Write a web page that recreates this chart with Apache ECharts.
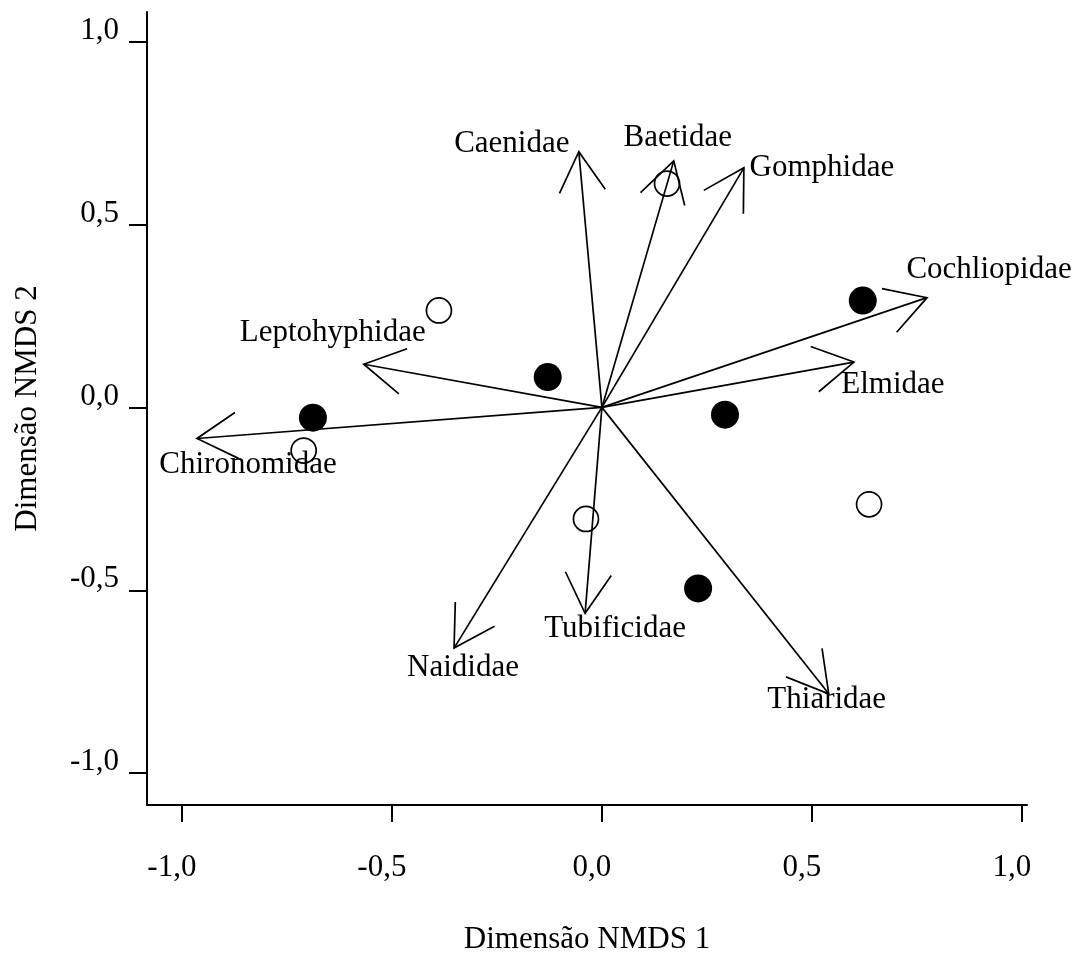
<!DOCTYPE html>
<html>
<head>
<meta charset="utf-8">
<script src="https://cdn.jsdelivr.net/npm/echarts@6/dist/echarts.min.js"></script>
<style>
html,body{margin:0;padding:0;background:#fff;}
#c{width:1079px;height:960px;}
</style>
</head>
<body>
<div id="c"></div>
<script>
// ---- data ----
const taxa = ['Caenidae','Baetidae','Gomphidae','Cochliopidae','Elmidae','Leptohyphidae','Chironomidae','Naididae','Tubificidae','Thiaridae'];
const vecX = [-0.055, 0.171, 0.338, 0.774, 0.600, -0.567, -0.964, -0.352, -0.040, 0.540];
const vecY = [0.699, 0.674, 0.655, 0.300, 0.124, 0.118, -0.085, -0.658, -0.563, -0.783];

const filledX = [-0.688, -0.129, 0.621, 0.293, 0.229];
const filledY = [-0.028, 0.083, 0.292, -0.020, -0.495];
const openX = [-0.388, 0.155, -0.710, -0.038, 0.636];
const openY = [0.265, 0.612, -0.118, -0.305, -0.265];

const tickValues = [-1, -0.5, 0, 0.5, 1];
const xTitle = 'Dimensão NMDS 1';
const yTitle = 'Dimensão NMDS 2';

// ---- layout (pixel offsets of each label centre from its arrow tip) ----
const labelOffset = {
  Caenidae: [-67, -8], Baetidae: [4, -23], Gomphidae: [78, 0], Cochliopidae: [62, -28],
  Elmidae: [39, 23], Leptohyphidae: [-31, -31], Chironomidae: [51, 26], Naididae: [9, 20],
  Tubificidae: [30, 16], Thiaridae: [-2, 6]
};

const FONT = '"Liberation Serif", "Times New Roman", serif';
const FS = 31;
const fmt = v => v.toFixed(1).replace('.', ',');

const chart = echarts.init(document.getElementById('c'), null, {renderer: 'canvas'});

const arrowData = taxa.map((n, i) => [vecX[i], vecY[i], n]);

chart.setOption({
  backgroundColor: '#fff',
  animation: false,
  grid: {left: 147, right: 52, top: 12, bottom: 149, containLabel: false},
  xAxis: {
    type: 'value', min: -1.083, max: 1.012,
    splitLine: {show: false},
    axisLine: {show: true, onZero: false, lineStyle: {color: '#000', width: 2}},
    axisTick: {show: true, length: 17, lineStyle: {color: '#000', width: 2}, customValues: tickValues},
    axisLabel: {customValues: tickValues, formatter: fmt, color: '#000', fontFamily: FONT, fontSize: FS,
      margin: 48, lineHeight: 30, padding: [0, 20, 0, 0]},
    name: xTitle, nameLocation: 'middle', nameGap: 119,
    nameTextStyle: {color: '#000', fontFamily: FONT, fontSize: FS, lineHeight: 31, verticalAlign: 'top'}
  },
  yAxis: {
    type: 'value', min: -1.087, max: 1.081,
    splitLine: {show: false},
    axisLine: {show: true, onZero: false, lineStyle: {color: '#000', width: 2}},
    axisTick: {show: true, length: 18, lineStyle: {color: '#000', width: 2}, customValues: tickValues},
    axisLabel: {customValues: tickValues, formatter: fmt, color: '#000', fontFamily: FONT, fontSize: FS,
      margin: 28, lineHeight: 22, verticalAlign: 'bottom'},
    name: yTitle, nameLocation: 'middle', nameGap: 104, nameRotate: 90,
    nameTextStyle: {color: '#000', fontFamily: FONT, fontSize: FS, lineHeight: 31}
  },
  series: [
    {
      type: 'custom',
      coordinateSystem: 'cartesian2d',
      data: arrowData,
      z: 2,
      renderItem: function (params, api) {
        const o = api.coord([0, 0]);
        const t = api.coord([api.value(0), api.value(1)]);
        const ang = Math.atan2(o[1] - t[1], o[0] - t[0]);
        const L = 46, h = Math.PI / 6;
        const a1 = [t[0] + L * Math.cos(ang + h), t[1] + L * Math.sin(ang + h)];
        const a2 = [t[0] + L * Math.cos(ang - h), t[1] + L * Math.sin(ang - h)];
        const name = taxa[params.dataIndex];
        const off = labelOffset[name];
        const st = {stroke: '#000', lineWidth: 1.7, fill: null};
        return {
          type: 'group',
          children: [
            {type: 'line', shape: {x1: o[0], y1: o[1], x2: t[0], y2: t[1]}, style: st},
            {type: 'polyline', shape: {points: [a1, t, a2]}, style: st},
            {type: 'text', x: t[0] + off[0], y: t[1] + off[1],
              style: {text: name, fill: '#000', font: FS + 'px ' + FONT, align: 'center', verticalAlign: 'middle'}}
          ]
        };
      }
    },
    {
      type: 'scatter', z: 3,
      data: filledX.map((x, i) => [x, filledY[i]]),
      symbol: 'circle', symbolSize: 28,
      itemStyle: {color: '#000', opacity: 1}
    },
    {
      type: 'scatter', z: 3,
      data: openX.map((x, i) => [x, openY[i]]),
      symbol: 'circle', symbolSize: 25,
      itemStyle: {color: 'rgba(255,255,255,0)', borderColor: '#000', borderWidth: 1.7, opacity: 1}
    }
  ]
});
</script>
</body>
</html>
